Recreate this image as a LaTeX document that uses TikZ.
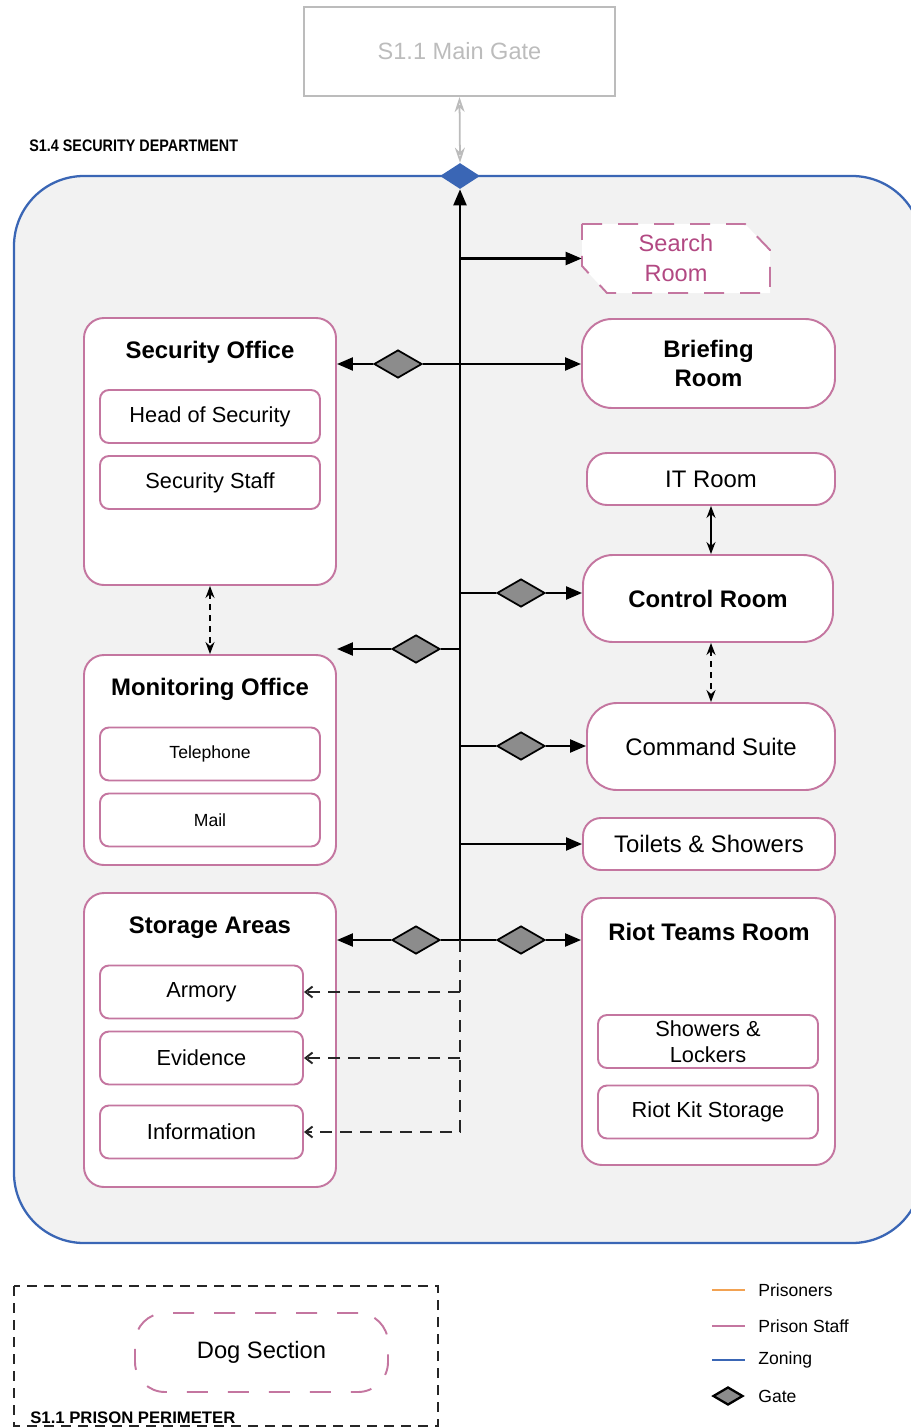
\documentclass[tikz,border=0pt]{standalone}
\usepackage{fontspec}
\setmainfont{Liberation Sans}
\usepackage{xcolor}
\definecolor{zone-blue}{RGB}{58,102,181}
\definecolor{zone-fill}{RGB}{242,242,242}
\definecolor{staff-pink}{RGB}{196,118,160}
\definecolor{search-pink}{RGB}{178,72,130}
\definecolor{gate-grey}{RGB}{140,140,140}
\definecolor{main-grey}{RGB}{188,188,188}
\definecolor{prisoner-orange}{RGB}{242,162,82}
\usepackage{tikz}
\usetikzlibrary{shapes,arrows.meta,positioning}

\begin{document}
\begin{tikzpicture}[x=0.2mm,y=-0.2mm,
    room/.style={draw=staff-pink,fill=white,line width=1.1pt,rounded corners=4mm,inner sep=0pt,
      font=\fontsize{13.6}{16.5}\selectfont,align=center},
    pillroom/.style={room,rounded corners=6mm},
    subroom/.style={room,rounded corners=1.8mm,minimum width=44mm,minimum height=10.6mm,
      font=\fontsize{12.4}{15.3}\selectfont},
    roomtitle/.style={font=\fontsize{13.6}{16.5}\selectfont\bfseries,inner sep=0pt},
    gatemark/.style={diamond,draw=black,fill=gate-grey,line width=1pt,inner sep=0pt,
      minimum width=9.6mm,minimum height=5.6mm},
    link/.style={draw=black,line width=1.3pt},
    flow/.style={link,-{Triangle[length=3.2mm,width=2.6mm]}},
    dflow/.style={draw=black!85,line width=1.1pt,dash pattern=on 2.4mm off 1.6mm,
      -{Straight Barb[length=1.4mm,width=2.2mm]}},
    pairflow/.style={draw=black,line width=0.9pt,{Stealth[length=2.4mm,width=1.8mm]}-{Stealth[length=2.4mm,width=1.8mm]}},
    dpairflow/.style={pairflow,dash pattern=on 1.2mm off 1mm},
    legendtext/.style={anchor=west,font=\fontsize{10}{12}\selectfont,inner sep=0pt}]

    \useasboundingbox (0,0) rectangle (911,1428);

    % zone
    \begin{scope}
        \clip (0,0) rectangle (911,1428);
        \draw[zone-blue,fill=zone-fill,line width=1.3pt,rounded corners=14mm] (14,176) rectangle (922,1243);
    \end{scope}
    \node[anchor=west,inner sep=0pt] (deptlabel) at (29,146)
        {\scalebox{0.86}[1]{\fontsize{9.5}{11}\selectfont\bfseries S1.4 SECURITY DEPARTMENT}};

    % main gate
    \node[draw=main-grey,line width=1.2pt,text=main-grey,minimum width=62.2mm,minimum height=17.8mm,
        font=\fontsize{13.4}{16}\selectfont] (maingate) at (459.5,51.5) {S1.1 Main Gate};
    \node[diamond,fill=zone-blue,inner sep=0pt,minimum width=8mm,minimum height=5.2mm] (zgate) at (460,176) {};
    \draw[main-grey,line width=1pt,{Stealth[open,length=3mm,width=2mm]}-{Stealth[open,length=3mm,width=2mm]}]
        (maingate.south) -- (zgate.north);

    % rooms
    \filldraw[draw=staff-pink,fill=white,line width=1.1pt,dash pattern=on 4mm off 3.2mm]
        (582,224) -- (745,224) -- (770,250) -- (770,293) -- (607,293) -- (582,266) -- cycle;
    \node[text=search-pink,align=center,minimum width=37.6mm,minimum height=13.8mm,inner sep=0pt,
        font=\fontsize{13.4}{17}\selectfont] (search) at (676,258.5) {Search\\Room};

    \node[room,minimum width=50.4mm,minimum height=53.4mm] (sec) at (210,451.5) {};
    \node[roomtitle] (sect) at (210,352) {Security Office};
    \node[subroom] (head) at (210,416.5) {Head of Security};
    \node[subroom] (staff) at (210,482.5) {Security Staff};

    \node[room,minimum width=50.4mm,minimum height=42mm] (mon) at (210,760) {};
    \node[roomtitle] (mont) at (210,689) {Monitoring Office};
    \node[subroom,font=\fontsize{10}{12}\selectfont] (tel) at (210,754) {Telephone};
    \node[subroom,font=\fontsize{10}{12}\selectfont] (mail) at (210,820) {Mail};

    \node[room,minimum width=50.4mm,minimum height=58.8mm] (stor) at (210,1040) {};
    \node[roomtitle] (stort) at (210,928) {Storage Areas};
    \node[subroom,minimum width=40.6mm] (arm) at (201.5,992) {Armory};
    \node[subroom,minimum width=40.6mm] (evid) at (201.5,1058) {Evidence};
    \node[subroom,minimum width=40.6mm] (info) at (201.5,1132) {Information};

    \node[pillroom,minimum width=50.6mm,minimum height=17.8mm,font=\fontsize{13.6}{16.4}\selectfont\bfseries]
        (brief) at (708.5,363.5) {Briefing\\Room};
    \node[room,minimum width=49.6mm,minimum height=10.4mm] (itr) at (711,479) {IT Room};
    \node[pillroom,minimum width=50mm,minimum height=17.4mm,font=\fontsize{13.6}{16.5}\selectfont\bfseries]
        (ctrl) at (708,598.5) {Control Room};
    \node[pillroom,minimum width=49.6mm,minimum height=17.4mm] (cmd) at (711,746.5) {Command Suite};
    \node[room,rounded corners=3.6mm,minimum width=50.4mm,minimum height=10.4mm] (toil) at (709,844) {Toilets \& Showers};

    \node[room,minimum width=50.6mm,minimum height=53.4mm] (riot) at (708.5,1031.5) {};
    \node[roomtitle] (riott) at (709,932) {Riot Teams Room};
    \node[subroom,font=\fontsize{12.4}{14.6}\selectfont] (shower) at (708,1041.5) {Showers \&\\Lockers};
    \node[subroom] (kit) at (708,1112) {Riot Kit Storage};

    % spine and gates
    \coordinate (hub) at (460,940);
    \node[gatemark] (g1) at (398,364) {};
    \node[gatemark] (g2) at (521,593) {};
    \node[gatemark] (g3) at (416,649) {};
    \node[gatemark] (g4) at (521,746) {};
    \node[gatemark] (g5) at (521,940) {};
    \node[gatemark] (g6) at (416,940) {};

    \draw[flow] (hub) -- (zgate.south);
    \draw[flow] (hub |- search.west) -- (search.west);
    \draw[flow] (hub |- g1) -- (brief.west |- g1);
    \draw[link] (hub |- g1) -- (g1);
    \draw[flow] (g1) -- (sec.east |- g1);
    \draw[link] (hub |- g2) -- (g2);
    \draw[flow] (g2) -- (ctrl.west |- g2);
    \draw[link] (hub |- g3) -- (g3);
    \draw[flow] (g3) -- (mon.east |- g3);
    \draw[link] (hub |- g4) -- (g4);
    \draw[flow] (g4) -- (cmd.west |- g4);
    \draw[flow] (hub |- toil.west) -- (toil.west);
    \draw[link] (hub) -- (g5);
    \draw[flow] (g5) -- (riot.west |- g5);
    \draw[link] (hub) -- (g6);
    \draw[flow] (g6) -- (stor.east |- g6);

    % storage access
    \draw[dflow] (hub) -- (hub |- info) -- (info.east);
    \draw[dflow] (hub |- arm) -- (arm.east);
    \draw[dflow] (hub |- evid) -- (evid.east);

    \draw[pairflow] (itr.south) -- (itr.south |- ctrl.north);
    \draw[dpairflow] (sec.south) -- (mon.north);
    \draw[dpairflow] (cmd.north |- ctrl.south) -- (cmd.north);

    % perimeter
    \draw[black!85,line width=1.1pt,dash pattern=on 2mm off 1.4mm] (14,1286) rectangle (438,1426);
    \node[draw=staff-pink,line width=1.1pt,dash pattern=on 4.2mm off 4mm,rounded corners=6mm,
        minimum width=50.6mm,minimum height=15.8mm,font=\fontsize{13.5}{16}\selectfont] (dog) at (261.5,1352.5) {Dog Section};
    \node[anchor=base west,inner sep=0pt] (perimlabel) at (30,1423)
        {\fontsize{9.5}{11}\selectfont\bfseries S1.1 PRISON PERIMETER};

    % legend
    \foreach \ly/\lc/\lt in {1290/prisoner-orange/Prisoners,1326/staff-pink/Prison Staff,1360/zone-blue/Zoning} {
        \draw[\lc,line width=1.6pt] (712,\ly) -- (745,\ly);
        \node[legendtext] (leg\ly) at (758,\ly) {\lt};
    }
    \node[gatemark,line width=1.3pt,minimum width=6mm,minimum height=3.6mm] (leggate) at (728,1396) {};
    \node[legendtext] (leggatet) at (758,1396) {Gate};
\end{tikzpicture}
\end{document}
